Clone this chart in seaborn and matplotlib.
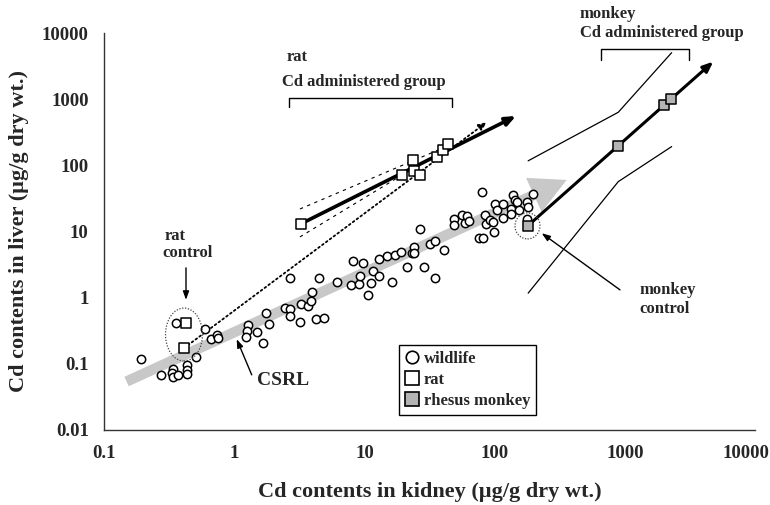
import numpy as np
import pandas as pd
import matplotlib
matplotlib.use("Agg")
import matplotlib.pyplot as plt
import seaborn as sns
from matplotlib.patches import Ellipse
from matplotlib.lines import Line2D
from matplotlib.transforms import ScaledTranslation

# ---------------- data (Cd content, µg/g dry wt.) ----------------
wild_kidney = [0.192,0.355,0.597,0.66,0.734,0.755,0.512,0.432,0.432,0.432,0.337,0.331,0.337,0.372,0.275,
               1.28,1.25,1.23,1.49,1.75,1.86,2.47,2.7,2.68,2.7,3.18,3.24,3.71,3.89,3.98,4.25,4.87,4.46,
               6.13,7.89,8.22,9.09,9.3,9.81,10.7,11.2,11.6,12.9,12.9,14.9,1.67,16.3,17.2,19,21.1,23.1,
               24.2,24.2,26.7,28.7,31.9,34.9,34.7,
               41.1,48.5,48.5,56.5,59.2,61.7,63.6,75.9,81,80.5,84.8,85.9,92.2,97.7,98.4,101,104,115,115,
               133,133,139,143,149,155,176,181,176,196]
wild_liver = [0.12,0.421,0.338,0.236,0.277,0.25,0.126,0.0956,0.082,0.0706,0.0832,0.0724,0.063,0.0675,0.0682,
              0.384,0.318,0.258,0.304,0.596,0.398,0.709,0.677,0.531,1.99,0.426,0.798,0.76,0.904,1.21,0.478,
              0.495,1.99,1.73,1.58,3.63,1.62,2.11,3.35,1.1,1.69,2.57,3.82,2.13,
              4.24,0.205,1.73,4.39,4.97,2.89,4.7,5.91,4.8,10.8,2.89,6.56,7.29,1.99,5.33,15.7,12.6,18,13.3,
              17.2,14.6,7.92,7.92,39.2,18,12.9,15,14.1,9.97,25.8,21.2,25.8,15.9,21.9,18.4,36.1,30.3,28.3,
              21.2,27.7,23.8,15.5,36.6]

rat_kidney = [0.423,0.412,3.24,19.3,23.5,24.2,26.6,35.9,39.9,44.1]
rat_liver = [0.421,0.173,13,70.9,121,83.2,70.9,133,171,208]
mon_kidney = [180,887,2010,2250]
mon_liver = [12.2,198,809,997]

rat_fit_k = [3.24,146]; rat_fit_l = [13,557]
rat_all_k = [0.412,87.4]; rat_all_l = [0.173,452]
rat_band_k = [3.2,45.4]
rat_band_up_l = [21.9,203]
rat_band_lo_l = [8.29,196]
mon_fit_k = [180,4780]; mon_fit_l = [12.2,3690]
mon_band_k = [181,891,2290]
mon_band_up_l = [117,634,5040]
mon_band_lo_l = [1.17,56.7,192]
csrl_k = [0.149,358]; csrl_l = [0.054,60.2]

x_ticks = [0.1, 1, 10, 100, 1000, 10000]
x_labels = ["0.1", "1", "10", "100", "1000", "10000"]
y_ticks = [0.01, 0.1, 1, 10, 100, 1000, 10000]
y_labels = ["0.01", "0.1", "1", "10", "100", "1000", "10000"]

# ---------------- figure ----------------
sns.set_style("white")
plt.rcParams['font.family'] = ['Liberation Serif', 'DejaVu Serif']
plt.rcParams['font.weight'] = 'bold'

fig = plt.figure(figsize=(7.7, 5.05), dpi=100)
ax = fig.add_axes([104/770, 1-430/505, 651/770, 397/505])
ax.set_xscale("log"); ax.set_yscale("log")
ax.set_xlim(0.1, 10000); ax.set_ylim(0.01, 10000)

# helper for placing annotations given a pixel location of the figure layout
def cx(px): return 10 ** ((px - 104) / 130.2 - 1)
def cy(py): return 10 ** (4 - (py - 33) / 66.2)

# CSRL broad grey arrow
ax.annotate("", xy=(csrl_k[1], csrl_l[1]), xytext=(csrl_k[0], csrl_l[0]),
            arrowprops=dict(arrowstyle="simple,head_length=26,head_width=27,tail_width=7.5",
                            mutation_scale=1, color="#c8c8c8", lw=0, shrinkA=0, shrinkB=0), zorder=1)

df_w = pd.DataFrame({"kidney": wild_kidney, "liver": wild_liver})
sns.scatterplot(data=df_w, x="kidney", y="liver", marker="o", s=36, facecolor="white",
                edgecolor="black", linewidth=1.1, ax=ax, zorder=4)

ax.plot(rat_band_k, rat_band_up_l, ls=(0, (3, 4)), color="black", lw=0.8, zorder=2)
ax.plot(rat_band_k, rat_band_lo_l, ls=(0, (3, 4)), color="black", lw=0.8, zorder=2)
ax.annotate("", xy=(rat_all_k[1], rat_all_l[1]), xytext=(rat_all_k[0], rat_all_l[0]),
            arrowprops=dict(arrowstyle="-|>,head_length=0.5,head_width=0.2", ls=":", lw=1.3,
                            color="black", shrinkA=0, shrinkB=0), zorder=3)
ax.annotate("", xy=(rat_fit_k[1], rat_fit_l[1]), xytext=(rat_fit_k[0], rat_fit_l[0]),
            arrowprops=dict(arrowstyle="-|>,head_length=0.6,head_width=0.25", lw=2.6,
                            color="black", shrinkA=0, shrinkB=0), zorder=3)
ax.annotate("", xy=(mon_fit_k[1], mon_fit_l[1]), xytext=(mon_fit_k[0], mon_fit_l[0]),
            arrowprops=dict(arrowstyle="-|>,head_length=0.6,head_width=0.25", lw=2.2,
                            color="black", shrinkA=0, shrinkB=0), zorder=3)
ax.plot(mon_band_k, mon_band_up_l, color="black", lw=0.9)
ax.plot(mon_band_k, mon_band_lo_l, color="black", lw=0.9)

df_r = pd.DataFrame({"kidney": rat_kidney, "liver": rat_liver})
sns.scatterplot(data=df_r, x="kidney", y="liver", marker="s", s=60, facecolor="white",
                edgecolor="black", linewidth=1.1, ax=ax, zorder=5)
df_m = pd.DataFrame({"kidney": mon_kidney, "liver": mon_liver})
sns.scatterplot(data=df_m, x="kidney", y="liver", marker="s", s=60, facecolor="#b4b4b4",
                edgecolor="black", linewidth=1.1, ax=ax, zorder=5)

# dotted ellipses around controls
for (px, py, w, h) in [(184, 334.7, 37, 53), (527.5, 226, 25, 26)]:
    e = Ellipse((0, 0), w/100, h/100, fill=False, ls=(0, (1, 1.3)), lw=0.9, edgecolor="#444444",
                transform=fig.dpi_scale_trans + ScaledTranslation(cx(px), cy(py), ax.transData), zorder=6)
    ax.add_patch(e)

tk = dict(fontsize=12, fontweight="bold", va="center", ha="left", clip_on=False)
ax.text(cx(287), cy(57), "rat", **tk)
ax.text(cx(282), cy(81.7), "Cd administered group", **tk)
ax.text(cx(580), cy(13.5), "monkey", **tk)
ax.text(cx(580), cy(33.5), "Cd administered group", **tk)
ax.text(cx(165), cy(236), "rat", **tk)
ax.text(cx(162), cy(253), "control", **tk)
ax.text(cx(639), cy(290), "monkey", **tk)
ax.text(cx(639), cy(309), "control", **tk)
ax.text(cx(257), cy(381), "CSRL", fontsize=14, fontweight="bold", va="center", ha="left")

# brackets
for (x0, x1, yb, yt) in [(289.3, 451.7, 98.3, 106.7), (600.7, 689.3, 49.3, 60)]:
    ax.plot([cx(x0), cx(x0), cx(x1), cx(x1)], [cy(yt), cy(yb), cy(yb), cy(yt)],
            color="black", lw=1.0, clip_on=False)

ap = dict(arrowstyle="-|>,head_length=0.5,head_width=0.18", lw=1.0, color="black", shrinkA=0, shrinkB=0)
ax.annotate("", xy=(cx(186), cy(300)), xytext=(cx(186), cy(268)), arrowprops=ap)
ax.annotate("", xy=(cx(236.7), cy(339.3)), xytext=(cx(251.7), cy(375)), arrowprops=ap)
ax.annotate("", xy=(cx(541.7), cy(233.3)), xytext=(cx(620), cy(290)), arrowprops=ap)

handles = [Line2D([], [], ls="", marker="o", ms=9, mfc="white", mec="black", mew=1.2),
           Line2D([], [], ls="", marker="s", ms=10, mfc="white", mec="black", mew=1.2),
           Line2D([], [], ls="", marker="s", ms=10, mfc="#b4b4b4", mec="black", mew=1.2)]
leg = ax.legend(handles, ["wildlife", "rat", "rhesus monkey"], loc="upper left",
                bbox_to_anchor=((399-104)/651, (430-345)/397), frameon=True, fancybox=False,
                edgecolor="black", framealpha=1, borderpad=0.35, handlelength=0.9,
                handletextpad=0.25, labelspacing=0.3, borderaxespad=0,
                prop=dict(size=12, weight="bold"))
leg.get_frame().set_linewidth(1.0)

ax.set_xticks(x_ticks)
ax.set_xticklabels(x_labels)
ax.set_yticks(y_ticks)
ax.set_yticklabels(y_labels)
ax.minorticks_off()
for s in ["top", "right"]:
    ax.spines[s].set_visible(False)
for s in ["left", "bottom"]:
    ax.spines[s].set_color("#333333"); ax.spines[s].set_linewidth(1.0)
ax.tick_params(axis="both", direction="out", length=5, width=1, color="#333333",
               labelsize=13.5, pad=6)
lt = ax.xaxis.get_major_ticks()[-1].label1
lt.set_transform(lt.get_transform() + ScaledTranslation(-9/100, 0, fig.dpi_scale_trans))
ax.set_xlabel("Cd contents in kidney (µg/g dry wt.)", fontsize=16, fontweight="bold", labelpad=14)
ax.set_ylabel("Cd contents in liver (µg/g dry wt.)", fontsize=16, fontweight="bold", labelpad=9)
fig.savefig("out.png", dpi=100)
